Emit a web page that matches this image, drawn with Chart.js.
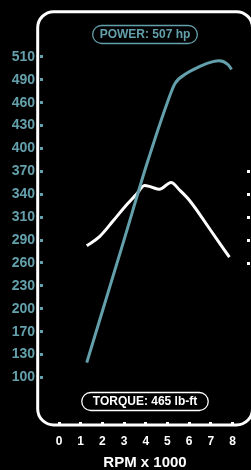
<!DOCTYPE html>
<html>
<head>
<meta charset="utf-8">
<script src="https://cdn.jsdelivr.net/npm/chart.js@4"></script>
<style>
html,body{margin:0;padding:0;background:#000;}
#wrap{position:relative;width:251px;height:470px;}
</style>
</head>
<body>
<div id="wrap"><canvas id="c" width="251" height="470"></canvas></div>
<script>
// ---- data ----
const rpmTicks = [0, 1, 2, 3, 4, 5, 6, 7, 8];
const hpTickLabels = ['100','130','170','200','230','260','290','310','340','370','400','430','460','490','510'];
const torqueTickValues = [360, 390, 420, 450, 480];

const powerRpm = [1.28, 3.0, 4.04, 5.04, 5.35, 5.89, 6.5, 7.1, 7.4, 7.8, 7.96];
const powerHp  = [119, 276, 372, 455, 476, 489, 498, 504, 505, 500, 494];

const torqueRpm = [1.28, 1.87, 2.48, 3.10, 3.56, 3.94, 4.25, 4.63, 5.17, 5.56, 6.03, 7.0, 7.86];
const torqueLbft = [383, 395, 415, 436, 450, 462, 460, 457, 466, 456, 442, 403, 368];

const powerLabel = 'POWER: 507 hp';
const torqueLabel = 'TORQUE: 465 lb-ft';
const xTitle = 'RPM x 1000';

// ---- styling ----
const TEAL = '#63a0ab';
const WHITE = '#ffffff';
const FONT = "'Liberation Sans', Arial, sans-serif";

const hpMin = 100, hpMax = 510;
const hpStep = (hpMax - hpMin) / (hpTickLabels.length - 1);

const framePlugin = {
  id: 'frame',
  afterDraw(chart) {
    const ctx = chart.ctx;
    const ca = chart.chartArea;
    const left = ca.left - 5.3, top = ca.top - 2.3, bottom = ca.bottom + 3.5, right = chart.width + 1.5;
    const r = 16;
    ctx.save();
    ctx.strokeStyle = WHITE;
    ctx.lineWidth = 3;
    ctx.beginPath();
    ctx.roundRect(left, top, right - left, bottom - top, r);
    ctx.stroke();

    const cx = (ca.left + ca.right) / 2;
    const pill = (text, cy, color, padX) => {
      ctx.font = 'bold 12px ' + FONT;
      const w = ctx.measureText(text).width + padX * 2;
      const h = 18;
      ctx.strokeStyle = color;
      ctx.lineWidth = 1.3;
      ctx.beginPath();
      ctx.roundRect(cx - w / 2, cy - h / 2, w, h, h / 2);
      ctx.stroke();
      ctx.fillStyle = color;
      ctx.textAlign = 'center';
      ctx.textBaseline = 'middle';
      ctx.fillText(text, cx, cy + 0.5);
    };
    pill(powerLabel, ca.top + 20.5, TEAL, 7);
    pill(torqueLabel, ca.bottom - 20, WHITE, 11);
    ctx.restore();
  }
};

new Chart(document.getElementById('c'), {
  type: 'line',
  data: {
    datasets: [
      {
        label: 'Power',
        data: powerRpm.map((x, i) => ({x, y: powerHp[i]})),
        yAxisID: 'y',
        borderColor: TEAL,
        borderWidth: 3,
        pointRadius: 0,
        cubicInterpolationMode: 'monotone',
        fill: false
      },
      {
        label: 'Torque',
        data: torqueRpm.map((x, i) => ({x, y: torqueLbft[i]})),
        yAxisID: 'y1',
        borderColor: WHITE,
        borderWidth: 3,
        pointRadius: 0,
        cubicInterpolationMode: 'monotone',
        fill: false
      }
    ]
  },
  options: {
    responsive: false,
    animation: false,
    devicePixelRatio: 1,
    layout: {padding: {top: 14, left: 0, right: 0, bottom: 0}},
    plugins: {legend: {display: false}, tooltip: {enabled: false}},
    scales: {
      x: {
        type: 'linear',
        min: -0.738,
        max: 8.67,
        afterBuildTicks: s => { s.ticks = rpmTicks.map(v => ({value: v})); },
        afterFit: s => { s.height = 48.5; },
        grid: {drawOnChartArea: false, drawTicks: true, tickLength: 3, lineWidth: 3, color: WHITE},
        border: {display: false},
        ticks: {color: WHITE, font: {family: FONT, size: 12, weight: 'bold'}, padding: 10, maxRotation: 0},
        title: {display: true, text: xTitle, color: WHITE, font: {family: FONT, size: 15, weight: 'bold', lineHeight: 1}, padding: {top: 0, bottom: 0}}
      },
      y: {
        type: 'linear',
        position: 'left',
        min: 43.7,
        max: 564.9,
        afterBuildTicks: s => { s.ticks = hpTickLabels.map((_, i) => ({value: hpMin + i * hpStep})); },
        afterFit: s => { s.width = 43; },
        grid: {drawOnChartArea: false, drawTicks: true, tickLength: 3, lineWidth: 3, color: TEAL},
        border: {display: false},
        ticks: {
          color: TEAL,
          font: {family: FONT, size: 14, weight: 'bold'},
          padding: 5,
          callback: (v, i) => hpTickLabels[i]
        }
      },
      y1: {
        type: 'linear',
        position: 'right',
        min: 152.8,
        max: 686.6,
        afterBuildTicks: s => { s.ticks = torqueTickValues.map(v => ({value: v})); },
        afterFit: s => { s.width = 4; },
        grid: {drawOnChartArea: false, drawTicks: true, tickLength: 3, lineWidth: 3, color: WHITE},
        border: {display: false},
        ticks: {display: false}
      }
    }
  },
  plugins: [framePlugin]
});
</script>
</body>
</html>
